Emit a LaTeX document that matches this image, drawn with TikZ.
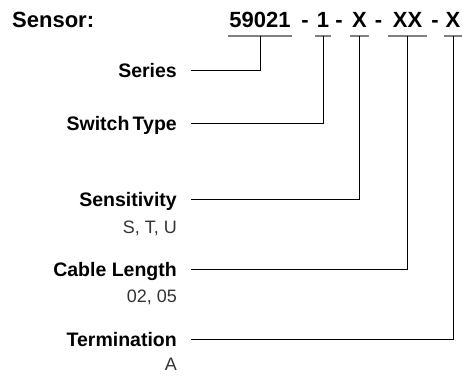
\documentclass[tikz,border=0pt]{standalone}
\usepackage{fontspec}
\setmainfont{Liberation Sans}
\usetikzlibrary{positioning}

\tikzset{
  code/.style={font=\fontsize{22}{24}\selectfont\bfseries, inner xsep=1.5pt, inner ysep=0pt, text depth=9pt, anchor=base},
  hyph/.style={font=\fontsize{22}{24}\selectfont\bfseries, inner sep=0pt, anchor=base},
  field/.style={font=\fontsize{19.5}{22}\selectfont\bfseries, inner sep=0pt, text height=14pt, text depth=0pt, anchor=base east},
  values/.style={font=\fontsize{18}{20}\selectfont, text=black!80, inner sep=0pt, anchor=base east},
  uline/.style={draw=black!50, line width=1.6pt},
  lead/.style={draw, line width=0.9pt},
}

\begin{document}
\begin{tikzpicture}[x=1pt, y=-1pt]
    \useasboundingbox (0,0) rectangle (462,375);

    % part number
    \node (sensor) [hyph, anchor=base west] at (12,27) {Sensor:};
    \node (c1) [code] at (260,27) {59021};
    \node (h1) [hyph] at (305,27) {-};
    \node (c2) [code] at (323,27) {1};
    \node (h2) [hyph] at (339,27) {-};
    \node (c3) [code] at (359.5,27) {X};
    \node (h3) [hyph] at (378.5,27) {-};
    \node (c4) [code, minimum width=39pt] at (407.5,27) {XX};
    \node (h4) [hyph] at (435,27) {-};
    \node (c5) [code] at (453,27) {X};

    \foreach \c in {c1,c2,c3,c4,c5}
    \draw[uline] (\c.south west) -- (\c.south east);

    % fields
    \node (series) [field] at (177,77) {Series};
    \node (switch) [field] at (177,130) {Switch\,Type};
    \node (sens) [field] at (177,206) {Sensitivity};
    \node (sensv) [values] at (177,233) {S, T, U};
    \node (cable) [field] at (177,276) {Cable Length};
    \node (cablev) [values] at (177,302) {02, 05};
    \node (term) [field] at (177,346) {Termination};
    \node (termv) [values] at (177,370) {A};

    \draw[lead] ([xshift=14pt]series.east) -| (c1.south);
    \draw[lead] ([xshift=14pt]switch.east) -| (c2.south);
    \draw[lead] ([xshift=14pt]sens.east) -| (c3.south);
    \draw[lead] ([xshift=14pt]cable.east) -| (c4.south);
    \draw[lead] ([xshift=14pt]term.east) -| (c5.south);
\end{tikzpicture}
\end{document}
